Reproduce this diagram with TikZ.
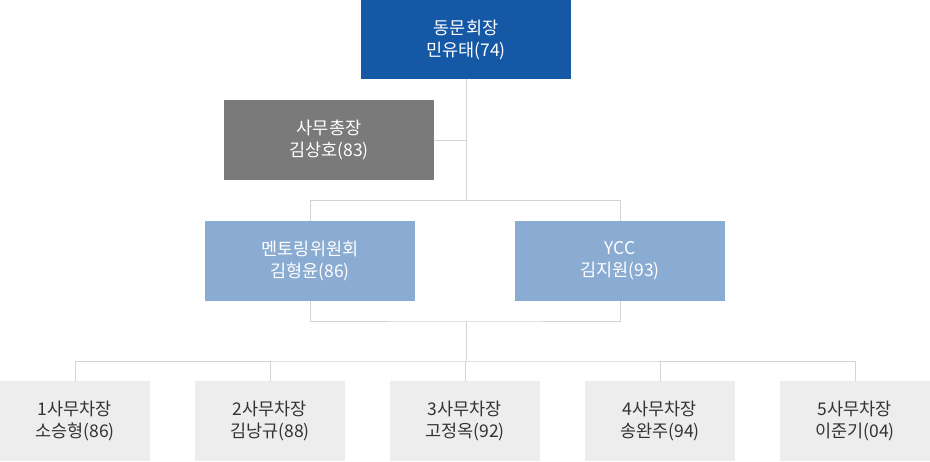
\documentclass[tikz,border=0pt]{standalone}
\usepackage{fontspec}
\setmainfont{Noto Sans CJK KR}
\definecolor{topblue}{HTML}{1558A6}
\definecolor{secgray}{HTML}{7A7A7A}
\definecolor{midblue}{HTML}{8AABD2}
\definecolor{lowgray}{HTML}{EDEDED}
\definecolor{linegray}{HTML}{D3D3D3}
\definecolor{txtdark}{HTML}{333333}
\begin{document}
\begin{tikzpicture}[x=1pt,y=-1pt,
  box/.style={inner sep=0pt, align=center, font=\fontsize{17.5}{22}\selectfont},
  bigbox/.style={box, minimum width=210pt, minimum height=80pt},
  smallbox/.style={box, minimum width=150pt, minimum height=80pt, fill=lowgray, text=txtdark},
  conn/.style={draw=linegray, line width=1pt}]
\useasboundingbox (0,0) rectangle (930,461);
\node[bigbox, fill=topblue, text=white, minimum height=79pt] (top) at (466,39.5) {동문회장\\민유태(74)};
\node[bigbox, fill=secgray, text=white] (sec) at (329,140) {사무총장\\김상호(83)};
\node[bigbox, fill=midblue, text=white] (men) at (310,261) {멘토링위원회\\김형윤(86)};
\node[bigbox, fill=midblue, text=white] (ycc) at (620,261) {YCC\\김지원(93)};
\node[smallbox] (s1) at (75,421) {1사무차장\\소승형(86)};
\node[smallbox] (s2) at (270,421) {2사무차장\\김낭규(88)};
\node[smallbox] (s3) at (465,421) {3사무차장\\고정옥(92)};
\node[smallbox] (s4) at (660,421) {4사무차장\\송완주(94)};
\node[smallbox] (s5) at (855,421) {5사무차장\\이준기(04)};
\coordinate (b1) at (466,200.5);
\coordinate (b2) at (466,321);
\coordinate (b3) at (466,361);
\draw[conn] (top.south) -- (b1);
\draw[conn] (sec.east) -- (sec.east -| b1);
\draw[conn] (men.north) |- (b1) -| (ycc.north);
\draw[conn] (men.south) |- (b2) -| (ycc.south);
\draw[conn] (b2) -- (b3);
\draw[conn] (s1.north) |- (b3) -| (s5.north);
\draw[conn] (s2.north) -- (s2.north |- b3);
\draw[conn] (s3.north) -- (s3.north |- b3);
\draw[conn] (s4.north) -- (s4.north |- b3);
\end{tikzpicture}
\end{document}
